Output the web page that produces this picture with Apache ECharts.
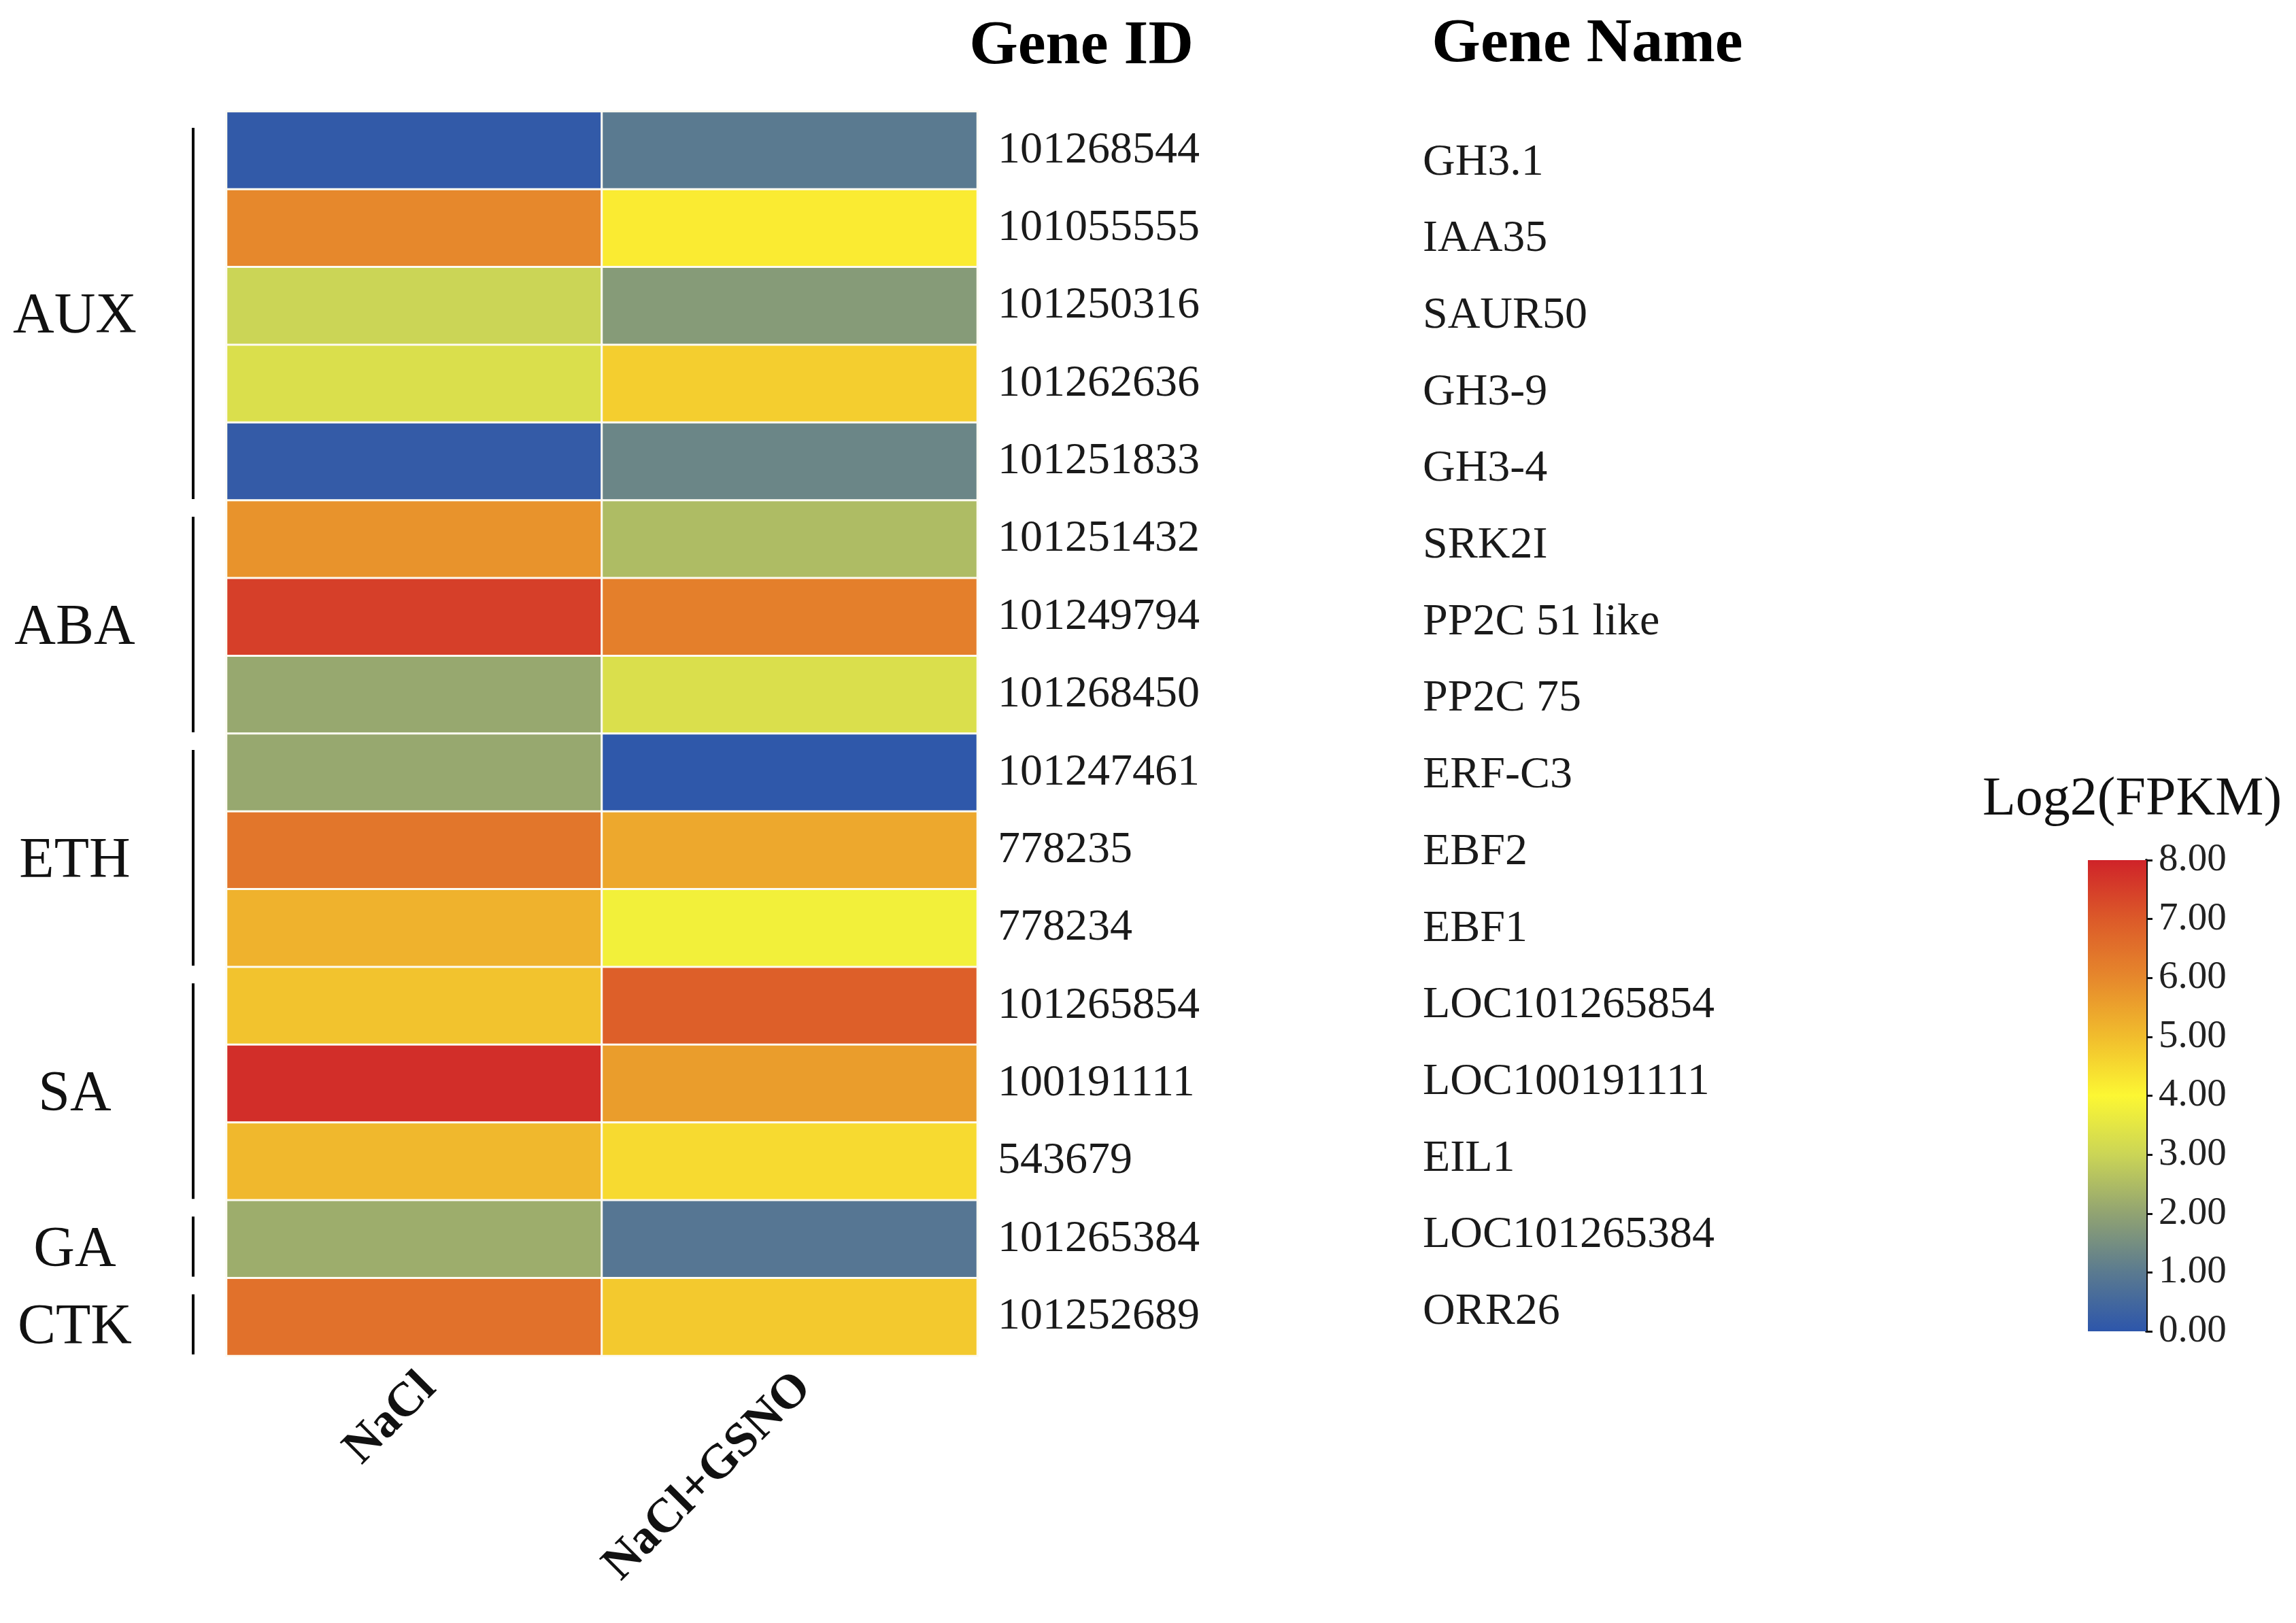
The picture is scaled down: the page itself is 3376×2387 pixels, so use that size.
<!DOCTYPE html>
<html>
<head>
<meta charset="utf-8">
<script src="https://cdn.jsdelivr.net/npm/echarts@6/dist/echarts.min.js"></script>
<style>
html,body{margin:0;padding:0;background:#fff;}
#chart{width:3376px;height:2387px;}
</style>
</head>
<body>
<div id="chart"></div>
<script>
// ---------- data ----------
const conditions = ['NaCl', 'NaCl+GSNO'];
const geneIds = ['101268544','101055555','101250316','101262636','101251833','101251432','101249794','101268450','101247461','778235','778234','101265854','100191111','543679','101265384','101252689'];
const geneNames = ['GH3.1','IAA35','SAUR50','GH3-9','GH3-4','SRK2I','PP2C 51 like','PP2C 75','ERF-C3','EBF2','EBF1','LOC101265854','LOC100191111','EIL1','LOC101265384','ORR26'];
const valuesNaCl = [0.1, 6.0, 3.0, 3.3, 0.15, 5.8, 7.5, 2.1, 2.1, 6.4, 5.2, 4.9, 7.8, 5.1, 2.2, 6.5];
const valuesGSNO = [1.0, 4.2, 1.8, 4.7, 1.3, 2.5, 6.2, 3.3, 0.05, 5.4, 3.8, 6.9, 5.6, 4.5, 0.9, 4.8];
const groupNames = ['AUX','ABA','ETH','SA','GA','CTK'];
const groupStart = [0, 5, 8, 11, 14, 15];
const groupEnd   = [4, 7, 10, 13, 14, 15];
const scaleMin = 0, scaleMax = 8, scaleStep = 1;
const palette = ['#2d56ab','#5a7a90','#91a372','#cbd556','#fcf733','#f1bd2d','#e6882c','#dc5a29','#cf2329'];

// ---------- build ----------
const heatData = [];
geneIds.forEach((g, i) => {
  heatData.push([0, i, valuesNaCl[i]]);
  heatData.push([1, i, valuesGSNO[i]]);
});
const groupData = groupNames.map((n, i) => [0, groupStart[i], groupEnd[i], n]);
const FONT = "'Liberation Serif','Times New Roman',serif";

const chart = echarts.init(document.getElementById('chart'), null, {renderer: 'canvas'});
const option = {
  backgroundColor: '#ffffff',
  animation: false,
  grid: [
    {left: 333, top: 164, width: 1104, height: 1830},
    {left: 2080, top: 183, width: 1, height: 1803},
    {left: 3070, top: 1265, width: 86, height: 693}
  ],
  xAxis: [
    {type: 'category', gridIndex: 0, data: conditions, position: 'bottom',
     axisLine: {show: false}, axisTick: {show: false}, splitLine: {show: false},
     axisLabel: {rotate: 45, margin: 58, fontFamily: FONT, fontWeight: 'bold', fontSize: 71, color: '#111',
       padding: [0, -30, 0, 0]}},
    {type: 'category', gridIndex: 1, data: ['n'], show: false},
    {type: 'category', gridIndex: 2, data: ['c'], show: false}
  ],
  yAxis: [
    {type: 'category', gridIndex: 0, data: geneIds, inverse: true, position: 'right',
     axisLine: {show: false}, axisTick: {show: false}, splitLine: {show: false},
     axisLabel: {margin: 30, fontFamily: FONT, fontSize: 66, color: '#1a1a1a'}},
    {type: 'category', gridIndex: 1, data: geneNames, inverse: true, position: 'right',
     axisLine: {show: false}, axisTick: {show: false}, splitLine: {show: false},
     axisLabel: {margin: 11, align: 'left', fontFamily: FONT, fontSize: 66, color: '#1a1a1a'}},
    {type: 'value', gridIndex: 2, min: scaleMin, max: scaleMax, interval: scaleStep, position: 'right',
     splitLine: {show: false},
     axisLine: {show: true, lineStyle: {color: '#111', width: 4}},
     axisTick: {show: true, length: 9, lineStyle: {color: '#111', width: 3}},
     axisLabel: {margin: 18, fontFamily: FONT, fontSize: 57, color: '#222',
       formatter: v => v.toFixed(2)}}
  ],
  visualMap: {
    show: false, type: 'continuous', min: scaleMin, max: scaleMax, seriesIndex: 0, dimension: 2,
    inRange: {color: palette}
  },
  graphic: [
    {type: 'text', x: 1590, y: 69, style: {text: 'Gene ID', font: "bold 92px 'Liberation Serif', serif", fill: '#000', textAlign: 'center', textVerticalAlign: 'middle'}},
    {type: 'text', x: 2334, y: 66, style: {text: 'Gene Name', font: "bold 92px 'Liberation Serif', serif", fill: '#000', textAlign: 'center', textVerticalAlign: 'middle'}},
    {type: 'text', x: 3135, y: 1177, style: {text: 'Log2(FPKM)', font: "80px 'Liberation Serif', serif", fill: '#111', textAlign: 'center', textVerticalAlign: 'middle'}}
  ],
  series: [
    {type: 'heatmap', xAxisIndex: 0, yAxisIndex: 0, data: heatData,
     itemStyle: {borderColor: '#fdfbf2', borderWidth: 3},
     emphasis: {disabled: true}},
    {type: 'custom', xAxisIndex: 0, yAxisIndex: 0, data: groupData, clip: false, silent: true,
     encode: {x: 0, y: [1, 2]},
     renderItem: function (params, api) {
       const cs = params.coordSys;
       const band = api.size([0, 1])[1];
       const y1 = api.coord([0, api.value(1)])[1] - band / 2 + 24;
       const y2 = api.coord([0, api.value(2)])[1] + band / 2 - 2;
       const xl = cs.x - 49;
       return {type: 'group', children: [
         {type: 'line', shape: {x1: xl, y1: y1, x2: xl, y2: y2}, style: {stroke: '#000', lineWidth: 4}},
         {type: 'text', style: {x: cs.x - 223, y: (y1 + y2) / 2 + 6, text: api.value(3),
           font: "84px 'Liberation Serif', serif", fill: '#111', textAlign: 'center', textVerticalAlign: 'middle'}}
       ]};
     }},
    {type: 'bar', xAxisIndex: 2, yAxisIndex: 2, data: [scaleMax], barWidth: '100%', silent: true,
     itemStyle: {color: {type: 'linear', x: 0, y: 1, x2: 0, y2: 0,
       colorStops: palette.map((c, i) => ({offset: i / (palette.length - 1), color: c}))}}}
  ]
};
chart.setOption(option);
</script>
</body>
</html>
